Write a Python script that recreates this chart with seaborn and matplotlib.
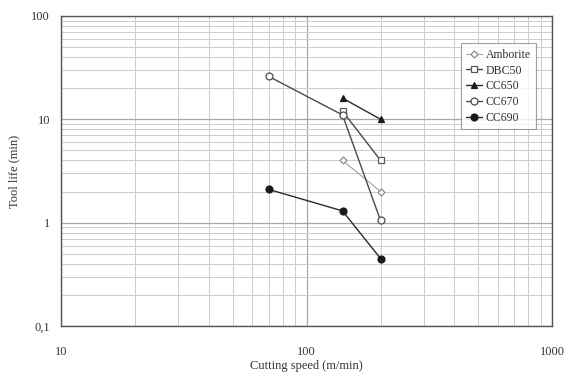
import matplotlib
matplotlib.use("Agg")
import matplotlib.pyplot as plt
import matplotlib.ticker as mticker
import seaborn as sns
import pandas as pd

# Tool life versus cutting speed for each tool material
amborite_speed = [140, 200]
amborite_life = [4.0, 2.0]
dbc50_speed = [140, 200]
dbc50_life = [12.0, 4.0]
cc650_speed = [140, 200]
cc650_life = [16.0, 10.0]
cc670_speed = [70, 140, 200]
cc670_life = [26.0, 11.0, 1.05]
cc690_speed = [70, 140, 200]
cc690_life = [2.1, 1.3, 0.45]

series = [
    ("Amborite", amborite_speed, amborite_life),
    ("DBC50", dbc50_speed, dbc50_life),
    ("CC650", cc650_speed, cc650_life),
    ("CC670", cc670_speed, cc670_life),
    ("CC690", cc690_speed, cc690_life),
]

styles = {
    "Amborite": dict(marker="D", markersize=3.5, color="#a0a0a0", markerfacecolor="white", markeredgecolor="#8a8a8a", linewidth=0.8),
    "DBC50": dict(marker="s", markersize=4.5, color="#4a4a4a", markerfacecolor="white", markeredgecolor="#5a5a5a", linewidth=1.0),
    "CC650": dict(marker="^", markersize=5, color="#2a2a2a", markerfacecolor="#1a1a1a", markeredgecolor="#1a1a1a", linewidth=1.0),
    "CC670": dict(marker="o", markersize=5, color="#4a4a4a", markerfacecolor="white", markeredgecolor="#4a4a4a", linewidth=1.0),
    "CC690": dict(marker="o", markersize=5, color="#2a2a2a", markerfacecolor="#1a1a1a", markeredgecolor="#1a1a1a", linewidth=1.0),
}

sns.set_style("white")
plt.rcParams["font.family"] = ["Liberation Serif", "DejaVu Serif"]

fig = plt.figure(figsize=(5.71, 3.77), dpi=100)
ax = fig.add_axes([0.107, 0.135, 0.86, 0.823])

for name, xs, ys in series:
    df = pd.DataFrame({"speed": xs, "life": ys})
    sns.lineplot(data=df, x="speed", y="life", ax=ax, label=name,
                 markeredgewidth=0.9, **styles[name])

ax.set_xscale("log")
ax.set_yscale("log")
ax.set_xlim(10, 1000)
ax.set_ylim(0.1, 100)

ax.xaxis.set_major_locator(mticker.FixedLocator([10, 100, 1000]))
ax.xaxis.set_major_formatter(mticker.FixedFormatter(["10", "100", "1000"]))
ax.yaxis.set_major_locator(mticker.FixedLocator([0.1, 1, 10, 100]))
ax.yaxis.set_major_formatter(mticker.FixedFormatter(["0,1", "1", "10", "100"]))
ax.xaxis.set_minor_locator(mticker.LogLocator(base=10, subs=range(2, 10)))
ax.yaxis.set_minor_locator(mticker.LogLocator(base=10, subs=range(2, 10)))
ax.xaxis.set_minor_formatter(mticker.NullFormatter())
ax.yaxis.set_minor_formatter(mticker.NullFormatter())

ax.grid(True, which="major", color="#a8a8a8", linewidth=0.9)
ax.grid(True, which="minor", color="#cccccc", linewidth=0.7)
ax.tick_params(which="both", length=0, labelsize=9, colors="#333333")
ax.tick_params(axis="x", pad=14)
ax.tick_params(axis="y", pad=8)

for sp in ax.spines.values():
    sp.set_color("#555555")
    sp.set_linewidth(1.0)

ax.set_xlabel("Cutting speed (m/min)", fontsize=9, color="#333333", labelpad=2)
ax.set_ylabel("Tool life (min)", fontsize=9, color="#333333", labelpad=8)

leg = ax.legend(loc="upper right", bbox_to_anchor=(0.98, 0.93), fontsize=8.5,
                frameon=True, fancybox=False, handlelength=1.4, handletextpad=0.3,
                labelspacing=0.32, borderpad=0.45, edgecolor="#888888")
leg.get_frame().set_linewidth(0.8)
for t in leg.get_texts():
    t.set_color("#333333")

fig.savefig("out.png", dpi=100, facecolor="white")
